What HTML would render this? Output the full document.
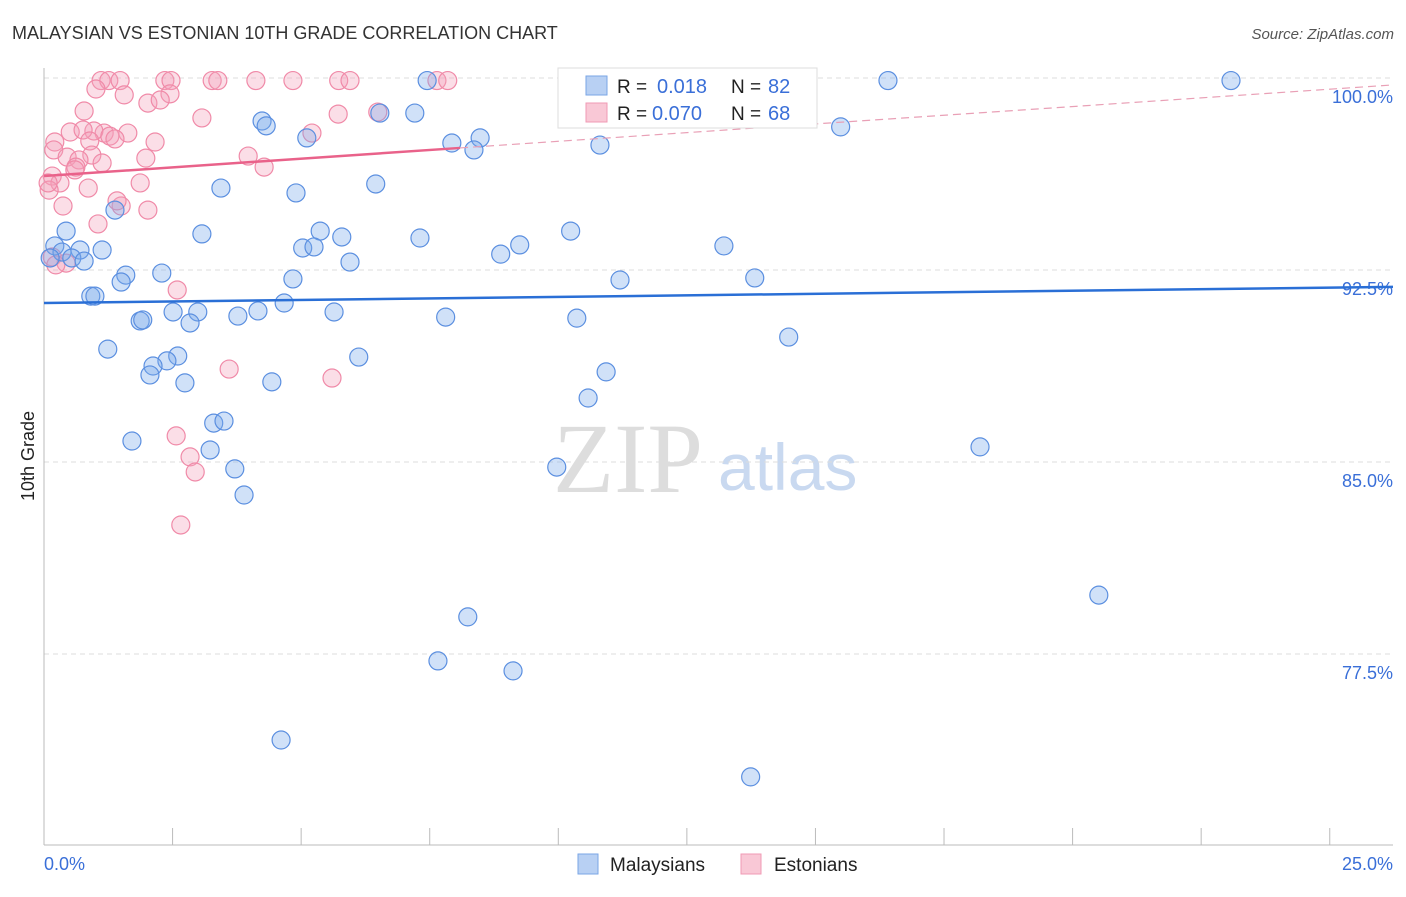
<!DOCTYPE html>
<html><head><meta charset="utf-8"><style>
body{margin:0;background:#fff;font-family:"Liberation Sans",sans-serif}
svg text{font-family:"Liberation Sans",sans-serif}
</style></head><body>
<svg id="chart" width="1406" height="892" viewBox="0 0 1406 892">
<text x="12" y="39" font-size="18" fill="#333">MALAYSIAN VS ESTONIAN 10TH GRADE CORRELATION CHART</text>
<text x="1394" y="39" font-size="15" fill="#555" font-style="italic" text-anchor="end">Source: ZipAtlas.com</text>
<g><text x="553" y="492" font-size="100" fill="#ddd" font-family="Liberation Serif" style="font-family:'Liberation Serif',serif">ZIP</text><text x="718" y="490" font-size="66" fill="#c9d9f0">atlas</text></g>
<g id="grid"></g><g id="axes"></g><g id="pts"></g><g id="trend"></g>
<text transform="translate(34,456) rotate(-90)" font-size="18" fill="#222" text-anchor="middle">10th Grade</text>
<text x="44" y="870" font-size="18" fill="#3a6fd8">0.0%</text>
<text x="1393" y="870" font-size="18" fill="#3a6fd8" text-anchor="end">25.0%</text>
<g>
<rect x="558" y="68" width="259" height="60" fill="#fff" stroke="#ddd"/>
<rect x="586" y="76" width="21" height="19" fill="#b8d0f3" stroke="#7aa6e6"/>
<rect x="586" y="103" width="21" height="19" fill="#f9c8d6" stroke="#f09ab4"/>
<text x="617" y="93" font-size="19" fill="#222">R = </text><text x="657" y="93" font-size="20" fill="#3a6fd8">0.018</text>
<text x="731" y="93" font-size="19" fill="#222">N = </text><text x="768" y="93" font-size="20" fill="#3a6fd8">82</text>
<text x="617" y="120" font-size="19" fill="#222">R = </text><text x="652" y="120" font-size="20" fill="#3a6fd8">0.070</text>
<text x="731" y="120" font-size="19" fill="#222">N = </text><text x="768" y="120" font-size="20" fill="#3a6fd8">68</text>
</g>
<g><rect x="578" y="854" width="20" height="20" fill="#b8d0f3" stroke="#7aa6e6"/><text x="610" y="871" font-size="19" fill="#222">Malaysians</text></g>
<g><rect x="741" y="854" width="20" height="20" fill="#f9c8d6" stroke="#f09ab4"/><text x="774" y="871" font-size="19" fill="#222">Estonians</text></g>
</svg>
<script>
const blueX=[11.53,14.09,16.41,23.08,7.45,6.53,7.21,4.24,4.32,5.11,7.93,8.48,8.36,10.81,15.49,3.44,4.90,6.45,1.38,3.07,5.37,5.79,5.03,5.25,7.31,9.25,10.24,13.22,0.43,0.21,0.35,0.70,1.13,0.12,0.54,0.78,1.59,1.50,2.29,4.84,5.95,8.88,11.20,13.82,0.91,0.99,4.67,4.16,2.99,2.51,5.64,3.77,1.87,1.92,2.84,7.81,10.36,1.24,2.60,2.39,2.12,2.06,2.74,4.43,6.12,14.48,10.93,10.58,3.30,3.50,3.23,1.71,3.71,3.89,9.97,18.20,20.51,8.24,7.66,9.12,4.61,13.74];
const blueY=[99.9,99.9,99.9,99.9,99.9,98.63,98.63,98.32,98.13,97.66,97.46,97.66,97.19,97.38,98.09,95.70,95.51,95.86,94.84,93.91,94.02,93.79,93.36,93.40,93.75,93.48,94.02,93.44,94.02,93.44,93.20,93.28,93.28,92.97,92.97,92.85,92.30,92.03,92.38,92.15,92.81,93.12,92.11,92.19,91.48,91.48,91.21,90.90,90.86,90.86,90.86,90.70,90.51,90.55,90.43,90.66,90.62,89.41,89.14,88.95,88.75,88.40,88.09,88.13,89.10,89.88,88.52,87.50,86.52,86.60,85.47,85.82,84.73,83.71,84.80,85.59,79.80,78.95,77.23,76.84,74.14,72.70];
const pinkX=[1.11,1.26,1.48,2.35,2.47,3.27,3.38,4.12,4.84,5.73,5.95,7.64,7.85,1.01,1.56,2.45,2.02,2.26,0.78,6.49,3.07,5.72,5.21,1.17,0.51,0.97,0.76,0.21,0.89,1.28,1.63,1.38,2.16,0.19,0.45,0.93,1.98,3.97,4.28,0.68,1.13,0.62,0.60,0.16,0.31,1.87,0.86,0.37,1.50,2.02,1.42,1.05,0.10,0.08,0.16,0.43,2.59,3.60,5.60,2.57,2.84,2.94,2.66,0.23];
const pinkY=[99.9,99.9,99.9,99.9,99.9,99.9,99.9,99.9,99.9,99.9,99.9,99.9,99.9,99.57,99.34,99.38,99.02,99.14,98.71,98.67,98.44,98.59,97.85,97.85,97.89,97.93,97.97,97.50,97.54,97.73,97.85,97.62,97.50,97.19,96.91,96.99,96.87,96.95,96.52,96.80,96.68,96.52,96.41,96.17,95.90,95.90,95.70,95.00,95.00,94.84,95.20,94.30,95.62,95.90,93.01,92.77,91.72,88.63,88.28,86.02,85.20,84.61,82.54,92.70];
const yTicks=[100,92.5,85,77.5];
const yTickLabels=["100.0%","92.5%","85.0%","77.5%"];
const xTicks=[0,2.5,5,7.5,10,12.5,15,17.5,20,22.5,25];
const blueTrend=[91.21,91.84];
const pinkTrend=[96.17,99.73];
const pinkSolidEnd=8.09;
const X0=44,X1=1393,XMAX=26.23,Y0=78,PXPER=25.6;
const sx=v=>X0+v/XMAX*(X1-X0);
const sy=v=>Y0+(100-v)*PXPER;
const NS="http://www.w3.org/2000/svg";
function mk(parent,tag,attrs){const e=document.createElementNS(NS,tag);for(const k in attrs)e.setAttribute(k,attrs[k]);document.getElementById(parent).appendChild(e);return e;}
yTicks.forEach((t,i)=>{
  const l=mk('grid','line',{x1:X0,x2:X1,y1:sy(t),y2:sy(t),stroke:'#ddd','stroke-dasharray':'5,4'});
  
  
  const tx=mk('grid','text',{x:1393,y:sy(t)+25,'font-size':18,fill:'#3a6fd8','text-anchor':'end'});
  tx.textContent=yTickLabels[i];
  
  
});
const ya=mk('axes','line',{x1:X0,x2:X0,y1:68,y2:845,stroke:'#bbb'});


const xa=mk('axes','line',{x1:X0,x2:X1,y1:845,y2:845,stroke:'#bbb'});


xTicks.forEach(t=>{
  const l=mk('axes','line',{x1:sx(t),x2:sx(t),y1:828,y2:845,stroke:'#bbb'});
  
  
});
pinkX.forEach((x,i)=>{
  const c=mk('pts','circle',{cx:sx(x),cy:sy(pinkY[i]),r:9,fill:'rgba(244,160,186,0.35)',stroke:'#f08aa8','stroke-width':1.2});
  
  
});
blueX.forEach((x,i)=>{
  const c=mk('pts','circle',{cx:sx(x),cy:sy(blueY[i]),r:9,fill:'rgba(120,168,235,0.35)',stroke:'#5b8fe0','stroke-width':1.2});
  
  
});
const bt=mk('trend','line',{x1:sx(0),y1:sy(blueTrend[0]),x2:sx(XMAX),y2:sy(blueTrend[1]),stroke:'#2a6fd6','stroke-width':2.5});


const pAt=x=>pinkTrend[0]+(pinkTrend[1]-pinkTrend[0])*x/XMAX;
const pt=mk('trend','line',{x1:sx(0),y1:sy(pinkTrend[0]),x2:sx(pinkSolidEnd),y2:sy(pAt(pinkSolidEnd)),stroke:'#e9628a','stroke-width':2.5});


const pd=mk('trend','line',{x1:sx(pinkSolidEnd),y1:sy(pAt(pinkSolidEnd)),x2:sx(XMAX),y2:sy(pinkTrend[1]),stroke:'#e9a0b6','stroke-width':1.2,'stroke-dasharray':'8,5'});


</script>
</body></html>
